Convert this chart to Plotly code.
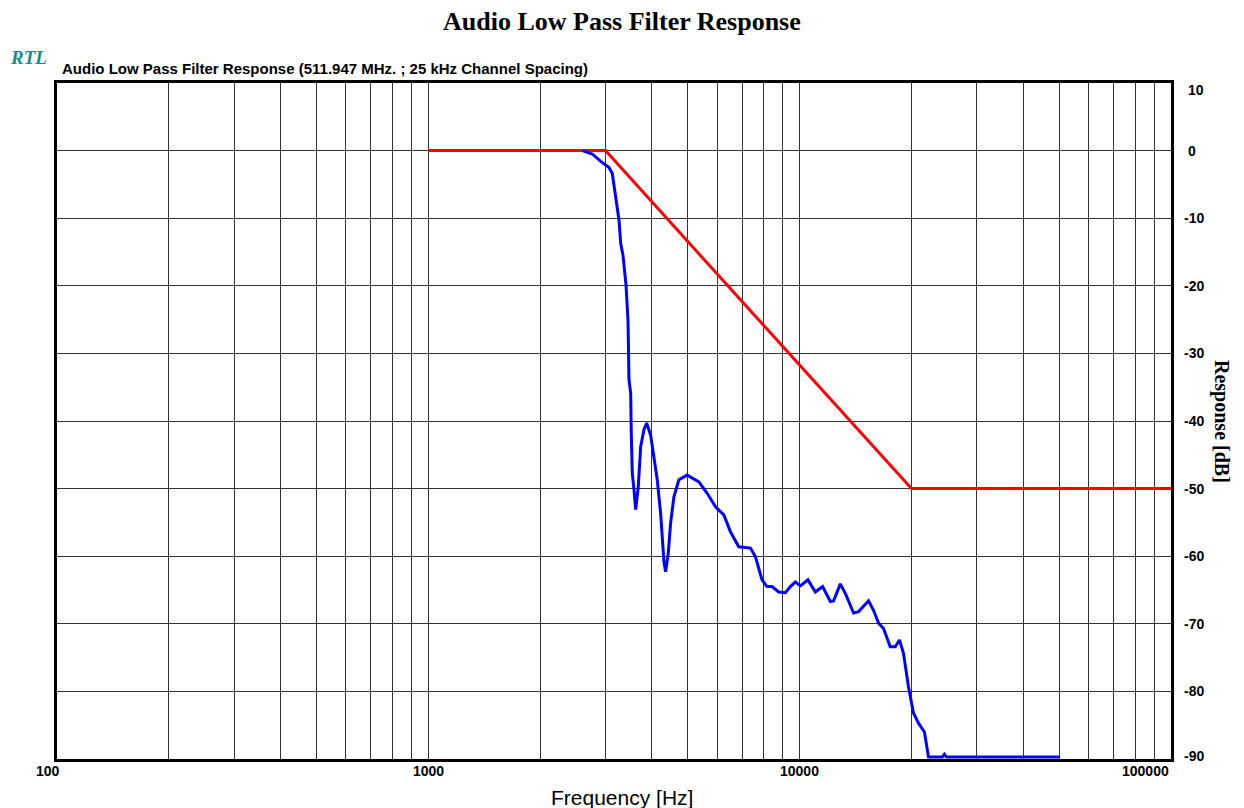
import math
import plotly.graph_objects as go

# ---------------- data ----------------
x_tick_values = [100, 1000, 10000, 100000]
x_tick_labels = ["100", "1000", "10000", "100000"]
y_tick_values = [10, 0, -10, -20, -30, -40, -50, -60, -70, -80, -90]
y_tick_labels = ["10", "0", "-10", "-20", "-30", "-40", "-50", "-60", "-70", "-80", "-90"]

limit_freq = [1000, 3000, 20000, 100000]
limit_db = [0, 0, -50, -50]

resp_freq = [2600, 2765, 2913, 3067, 3129, 3196, 3262, 3296, 3344, 3407, 3449, 3470,
             3507, 3520, 3542, 3580, 3617, 3676, 3731, 3807, 3872, 3969, 4051, 4135,
             4223, 4310, 4355, 4426, 4492, 4585, 4729, 4977, 5353, 5635, 5935, 6248,
             6512, 6855, 7371, 7603, 7917, 8166, 8423, 8780, 9154, 9441, 9737, 10044,
             10527, 11021, 11530, 12092, 12342, 12866, 13270, 13973, 14412, 15328,
             15809, 16312, 16822, 17533, 18085, 18570, 19040, 19634, 20251, 20892,
             21677, 22230, 24230, 24530, 24840, 50000]
resp_db = [0, -0.5, -1.6, -2.5, -3.4, -6.8, -10.3, -13.7, -15.5, -19.9, -25.1, -33.9,
           -35.9, -41.8, -47.7, -50.2, -53.1, -49.7, -43.8, -41.3, -40.3, -42.1, -45.3, -48.7,
           -53.7, -60.8, -62.3, -59.6, -55.1, -51.2, -48.7, -48.0, -49.0, -50.7, -52.7, -53.9,
           -56.4, -58.6, -58.8, -60.1, -63.5, -64.5, -64.5, -65.3, -65.4, -64.5, -63.8, -64.4,
           -63.5, -65.3, -64.5, -66.7, -66.6, -64.1, -65.5, -68.4, -68.2, -66.6,
           -68.0, -69.9, -70.7, -73.4, -73.4, -72.4, -74.4, -79.3, -83.2, -84.7,
           -86.0, -89.7, -89.7, -89.3, -89.7, -89.7]

title_text = "Audio Low Pass Filter Response"
subtitle_text = "Audio Low Pass Filter Response (511.947 MHz. ; 25 kHz Channel Spacing)"
x_title = "Frequency [Hz]"
y_title = "Response [dB]"

# gridline positions (1..9 per decade)
grid_vals = []
for d in x_tick_values[:-1]:
    for m in range(1, 10):
        grid_vals.append(d * m)
grid_vals.append(x_tick_values[-1])

fig = go.Figure()
fig.add_trace(go.Scatter(x=limit_freq, y=limit_db, mode="lines",
                         line=dict(color="#ff0000", width=3), hoverinfo="skip",
                         showlegend=False))
fig.add_trace(go.Scatter(x=resp_freq, y=resp_db, mode="lines",
                         line=dict(color="#0000ff", width=3), hoverinfo="skip",
                         showlegend=False))

fig.update_layout(
    width=1244, height=808,
    margin=dict(l=57, r=73, t=83, b=49),
    paper_bgcolor="white", plot_bgcolor="white",
    showlegend=False,
    xaxis=dict(type="log", range=[math.log10(100), math.log10(100000)],
               tickvals=grid_vals, showticklabels=False, ticks="",
               showgrid=True, gridcolor="#333333", gridwidth=1.4,
               showline=True, linecolor="black", linewidth=2.5, mirror=True,
               zeroline=False, layer="below traces", fixedrange=True),
    yaxis=dict(range=[-90, 10], tickvals=y_tick_values, showticklabels=False, ticks="",
               side="right",
               showgrid=True, gridcolor="#333333", gridwidth=1.4,
               showline=True, linecolor="black", linewidth=2.5, mirror=True,
               zeroline=False, layer="below traces", fixedrange=True),
)

ann = []
# main title
ann.append(dict(text=f"<b>{title_text}</b>", xref="paper", yref="paper", x=0.5, y=1,
                xshift=8, yshift=62, xanchor="center", yanchor="middle", showarrow=False,
                font=dict(family="Liberation Serif, Times New Roman, serif", size=26, color="black")))
# RTL logo
ann.append(dict(text="<b><i>RTL</i></b>", xref="paper", yref="paper", x=0, y=1,
                xshift=-49, yshift=26, xanchor="left", yanchor="middle", showarrow=False,
                font=dict(family="Liberation Serif, Times New Roman, serif", size=19, color="#168a8c")))
# subtitle
ann.append(dict(text=f"<b>{subtitle_text}</b>", xref="paper", yref="paper", x=0, y=1,
                xshift=3, yshift=15, xanchor="left", yanchor="middle", showarrow=False,
                font=dict(family="Liberation Sans, Arial, sans-serif", size=15, color="black")))
# x title
ann.append(dict(text=x_title, xref="paper", yref="paper", x=0.5, y=0,
                xshift=8, yshift=-38, xanchor="center", yanchor="middle", showarrow=False,
                font=dict(family="Liberation Sans, Arial, sans-serif", size=21, color="black")))
# y title
ann.append(dict(text=f"<b>{y_title}</b>", xref="paper", yref="paper", x=1, y=0.5,
                xshift=51, xanchor="center", yanchor="middle", showarrow=False, textangle=90,
                font=dict(family="Liberation Serif, Times New Roman, serif", size=20, color="black")))
# x tick labels
for i, (v, lab) in enumerate(zip(x_tick_values, x_tick_labels)):
    if i == 0:
        anchor, xs = "right", 5
    elif i == len(x_tick_values) - 1:
        anchor, xs = "right", 0
    else:
        anchor, xs = "center", 0
    ann.append(dict(text=f"<b>{lab}</b>", xref="x", yref="paper", x=math.log10(v), y=0,
                    xshift=xs, yshift=-12, xanchor=anchor, yanchor="middle", showarrow=False,
                    font=dict(family="Liberation Sans, Arial, sans-serif", size=14, color="black")))
# y tick labels
for v, lab in zip(y_tick_values, y_tick_labels):
    ys = -7 if v == max(y_tick_values) else (3 if v == min(y_tick_values) else 0)
    xs = 11 if lab.startswith("-") else 15
    ann.append(dict(text=f"<b>{lab}</b>", xref="paper", yref="y", x=1, y=v,
                    xshift=xs, yshift=ys, xanchor="left", yanchor="middle", showarrow=False,
                    font=dict(family="Liberation Sans, Arial, sans-serif", size=14, color="black")))

fig.update_layout(annotations=ann)
fig.write_html("out.html", config={"displayModeBar": False},
               post_script="document.body.style.margin='0';")
